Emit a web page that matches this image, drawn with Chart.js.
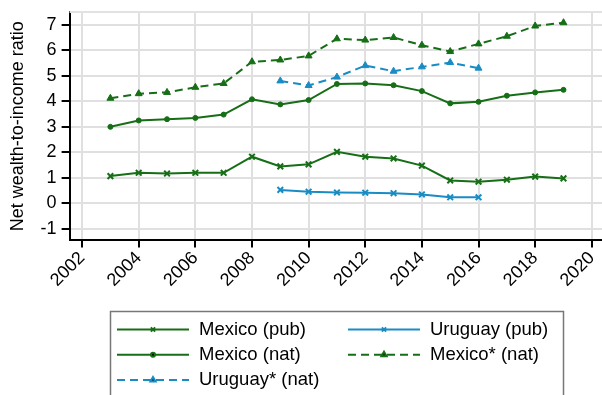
<!DOCTYPE html>
<html>
<head>
<meta charset="utf-8">
<script src="https://cdn.jsdelivr.net/npm/chart.js@4.4.1/dist/chart.umd.min.js"></script>
<style>
  html, body { margin: 0; padding: 0; background: #fff; }
  #wrap { width: 602px; height: 395px; }
</style>
</head>
<body>
<div id="wrap"><canvas id="chart1" width="602" height="395"></canvas></div>
<script>
const yearsMexico = [2003, 2004, 2005, 2006, 2007, 2008, 2009, 2010, 2011, 2012, 2013, 2014, 2015, 2016, 2017, 2018, 2019]
const yearsUruguay = [2009, 2010, 2011, 2012, 2013, 2014, 2015, 2016]

const mexicoPub = [1.07, 1.20, 1.17, 1.20, 1.20, 1.83, 1.45, 1.53, 2.02, 1.83, 1.76, 1.48, 0.90, 0.85, 0.93, 1.05, 0.98]
const uruguayPub = [0.53, 0.46, 0.43, 0.42, 0.40, 0.35, 0.24, 0.24]
const mexicoNat = [3.00, 3.25, 3.30, 3.35, 3.48, 4.08, 3.88, 4.05, 4.68, 4.70, 4.63, 4.40, 3.92, 3.98, 4.22, 4.35, 4.45]
const mexicoStarNat = [4.12, 4.30, 4.35, 4.55, 4.70, 5.55, 5.62, 5.78, 6.45, 6.40, 6.50, 6.20, 5.95, 6.25, 6.55, 6.95, 7.08]
const uruguayStarNat = [4.80, 4.62, 4.95, 5.40, 5.18, 5.35, 5.52, 5.30]

const xTicks = [2002, 2004, 2006, 2008, 2010, 2012, 2014, 2016, 2018, 2020]
const yTicks = [-1, 0, 1, 2, 3, 4, 5, 6, 7]

const green = '#166e16'
const blue = '#1a8cc4'
const font = "'Liberation Sans', Arial, sans-serif"

function toPoints(years, values) {
    return years.map((yr, i) => ({ x: yr, y: values[i] }))
}

function noPadding(axis) {
    axis.paddingLeft = 0
    axis.paddingRight = 0
    axis.paddingTop = 0
    axis.paddingBottom = 0
}

// legend drawn by hand, two columns inside a grey box
const boxLegend = {
    id: 'boxLegend',
    afterDraw(chart) {
        const ctx = chart.ctx
        ctx.save()
        ctx.strokeStyle = '#777'
        ctx.lineWidth = 1.5
        ctx.strokeRect(110.5, 311.5, 453, 100)
        const cols = [117, 348]
        chart.data.datasets.forEach((ds, i) => {
            const col = i % 2
            const row = Math.floor(i / 2)
            const x0 = cols[col]
            const y = 329.5 + row * 25.3
            ctx.strokeStyle = ds.borderColor
            ctx.lineWidth = 2
            ctx.setLineDash(ds.borderDash || [])
            ctx.beginPath()
            ctx.moveTo(x0, y)
            ctx.lineTo(x0 + 72, y)
            ctx.stroke()
            ctx.setLineDash([])
            Chart.helpers.drawPoint(ctx, {
                pointStyle: ds.pointStyle,
                radius: ds.pointStyle === 'circle' ? 2 : 3,
                borderWidth: 2
            }, x0 + 36, y)
            ctx.fillStyle = '#000'
            ctx.font = '18.5px ' + font
            ctx.textBaseline = 'middle'
            ctx.textAlign = 'left'
            ctx.fillText(ds.label, x0 + 82, y)
        })
        ctx.restore()
    }
}

const topLine = {
    id: 'topLine',
    beforeDatasetsDraw(chart) {
        const { ctx, chartArea } = chart
        ctx.save()
        ctx.strokeStyle = '#e2e2e2'
        ctx.lineWidth = 2
        ctx.beginPath()
        ctx.moveTo(chartArea.left, chartArea.top)
        ctx.lineTo(chartArea.right, chartArea.top)
        ctx.stroke()
        ctx.restore()
    }
}

function renderChart() {
    const ctx = document.querySelector('#chart1').getContext('2d')
    const chart1 = new Chart(ctx, {
        type: 'line',
        data: {
            datasets: [{
                label: 'Mexico (pub)',
                data: toPoints(yearsMexico, mexicoPub),
                borderColor: green,
                backgroundColor: green,
                pointStyle: 'crossRot',
                pointRadius: 4,
                pointBorderWidth: 2
            }, {
                label: 'Uruguay (pub)',
                data: toPoints(yearsUruguay, uruguayPub),
                borderColor: blue,
                backgroundColor: blue,
                pointStyle: 'crossRot',
                pointRadius: 4,
                pointBorderWidth: 2
            }, {
                label: 'Mexico (nat)',
                data: toPoints(yearsMexico, mexicoNat),
                borderColor: green,
                backgroundColor: green,
                pointStyle: 'circle',
                pointRadius: 2.5,
                pointBorderWidth: 1
            }, {
                label: 'Mexico* (nat)',
                data: toPoints(yearsMexico, mexicoStarNat),
                borderColor: green,
                backgroundColor: green,
                borderDash: [8, 5],
                pointStyle: 'triangle',
                pointRadius: 4,
                pointBorderWidth: 1
            }, {
                label: 'Uruguay* (nat)',
                data: toPoints(yearsUruguay, uruguayStarNat),
                borderColor: blue,
                backgroundColor: blue,
                borderDash: [8, 5],
                pointStyle: 'triangle',
                pointRadius: 4,
                pointBorderWidth: 1
            }]
        },
        options: {
            responsive: false,
            animation: false,
            elements: {
                line: { borderWidth: 2, tension: 0 }
            },
            plugins: {
                legend: { display: false },
                tooltip: { enabled: false }
            },
            layout: {
                autoPadding: false,
                padding: { top: 12, right: 0, left: 4, bottom: 104 }
            },
            scales: {
                x: {
                    type: 'linear',
                    min: 2001.56,
                    max: 2020.36,
                    afterBuildTicks: axis => { axis.ticks = xTicks.map(v => ({ value: v })) },
                    afterFit: noPadding,
                    ticks: {
                        color: '#000',
                        font: { family: font, size: 18 },
                        maxRotation: 45,
                        minRotation: 45,
                        padding: 0,
                        callback: v => String(v)
                    },
                    grid: {
                        color: '#e0e0e0',
                        lineWidth: 2,
                        tickColor: '#000',
                        tickLength: 7
                    },
                    border: { color: '#000', width: 2 }
                },
                y: {
                    min: -1.45,
                    max: 7.5,
                    afterBuildTicks: axis => { axis.ticks = yTicks.map(v => ({ value: v })) },
                    afterFit: noPadding,
                    ticks: {
                        color: '#000',
                        font: { family: font, size: 18 },
                        padding: 5,
                        callback: v => String(v)
                    },
                    grid: {
                        color: '#e0e0e0',
                        lineWidth: 2,
                        tickColor: '#000',
                        tickLength: 8
                    },
                    border: { color: '#000', width: 2 },
                    title: {
                        display: true,
                        text: 'Net wealth-to-income ratio',
                        color: '#000',
                        font: { family: font, size: 18 },
                        padding: { top: 3, bottom: 7 }
                    }
                }
            }
        },
        plugins: [topLine, boxLegend]
    })
}

renderChart()
</script>
</body>
</html>
